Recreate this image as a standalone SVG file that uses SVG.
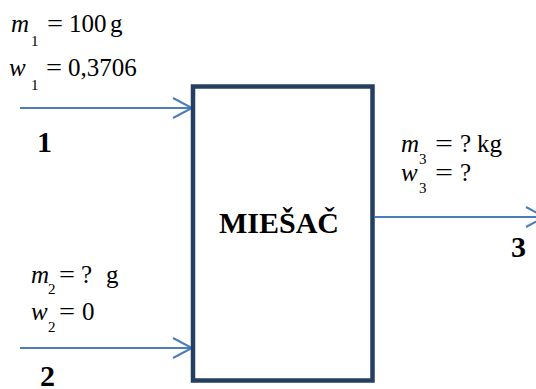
<svg xmlns="http://www.w3.org/2000/svg" width="536" height="389" viewBox="0 0 536 389">
<style>
text{font-family:'Liberation Serif','Tinos','DejaVu Serif',serif;fill:#000}
.t{font-size:25px}
.i{font-style:italic}
.s{font-size:15px}
.b{font-weight:bold;font-size:30px}
.flow{stroke:#4a7ebb;stroke-width:2;fill:none}
</style>
<defs>
<marker id="ah" markerUnits="userSpaceOnUse" markerWidth="22" markerHeight="24" refX="20" refY="11" orient="auto" overflow="visible">
<path d="M1,1 L20,11 L1,21" fill="none" stroke="#4a7ebb" stroke-width="2"/>
</marker>
</defs>
<rect width="536" height="389" fill="#fff"/>
<g id="connectors">
<line class="flow" x1="20" y1="108" x2="192" y2="108" marker-end="url(#ah)"/>
<line class="flow" x1="20" y1="348" x2="192" y2="348" marker-end="url(#ah)"/>
<line class="flow" x1="375" y1="217" x2="545" y2="217" marker-end="url(#ah)"/>
</g>
<g id="miesac">
<rect x="193" y="86.5" width="179.5" height="294" fill="#fff" stroke="#243f60" stroke-width="4.5"/>
<text class="b" x="279" y="233" text-anchor="middle" font-size="31">MIEŠAČ</text>
</g>
<g id="stream1">
<text class="t i" x="11" y="32">m</text><text class="t s" x="31" y="46">1</text><text class="t" x="47" y="32" textLength="16" lengthAdjust="spacingAndGlyphs">=</text><text class="t" x="69" y="32">100</text><text class="t" x="110" y="32">g</text>
<text class="t i" x="9" y="76">w</text><text class="t s" x="31" y="90">1</text><text class="t" x="46" y="76" textLength="16" lengthAdjust="spacingAndGlyphs">=</text><text class="t" x="68" y="76">0,3706</text>
<text class="b" x="37" y="152">1</text>
</g>
<g id="stream2">
<text class="t i" x="31" y="283">m</text><text class="t s" x="48" y="294">2</text><text class="t" x="59" y="283" textLength="16" lengthAdjust="spacingAndGlyphs">=</text><text class="t" x="81" y="283">?</text><text class="t" x="106" y="283">g</text>
<text class="t i" x="31" y="320">w</text><text class="t s" x="48" y="332">2</text><text class="t" x="59" y="320" textLength="16" lengthAdjust="spacingAndGlyphs">=</text><text class="t" x="82" y="320">0</text>
<text class="b" x="40" y="386">2</text>
</g>
<g id="stream3">
<text class="t i" x="401" y="152">m</text><text class="t s" x="419" y="164">3</text><text class="t" x="435" y="152" textLength="18" lengthAdjust="spacingAndGlyphs">=</text><text class="t" x="460" y="152">?</text><text class="t" x="477" y="152">kg</text>
<text class="t i" x="401" y="181">w</text><text class="t s" x="419" y="193">3</text><text class="t" x="435" y="181" textLength="18" lengthAdjust="spacingAndGlyphs">=</text><text class="t" x="460" y="181">?</text>
<text class="b" x="511" y="257">3</text>
</g>
</svg>
